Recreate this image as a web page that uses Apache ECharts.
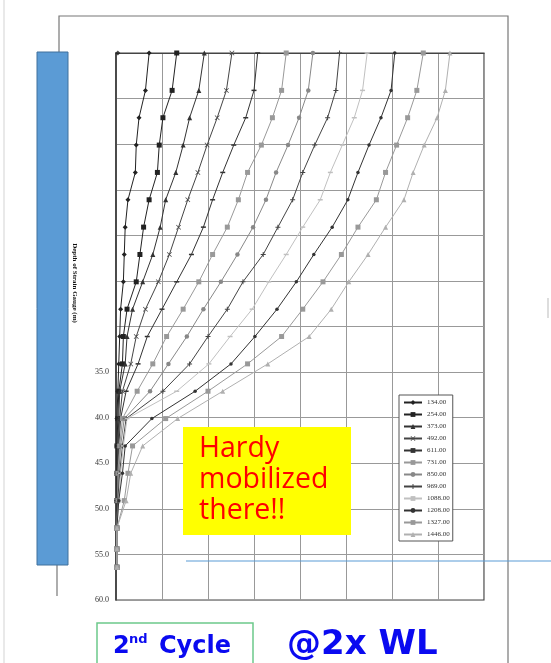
<!DOCTYPE html>
<html>
<head>
<meta charset="utf-8">
<script src="https://cdn.jsdelivr.net/npm/echarts@6/dist/echarts.min.js"></script>
<style>
html,body{margin:0;padding:0;background:#fff;}
#c{width:551px;height:663px;}
</style>
</head>
<body>
<div id="c"></div>
<script>
// ---- data ----
const depths = [0, 4.1, 7.1, 10.1, 13.1, 16.1, 19.1, 22.1, 25.1, 28.1, 31.1, 34.1, 37.1, 40.1, 43.1, 46.1, 49.1, 52.1, 54.4, 56.4];
const loadLabels = ['134.00','254.00','373.00','492.00','611.00','731.00','850.00','969.00','1088.00','1208.00','1327.00','1446.00'];
const s134  = [36,32,25,22,21,13,10,9,8,5,4,3,2,1,1,1,1,1,1,1];
const s254  = [66,61,51,47,45,36,30,26,22,12,8,7,3,2,1,1,1,1,1,1];
const s373  = [96,90,80,73,65,54,48,40,29,18,12,10,4,3,2,1,1,1,1,1];
const s492  = [126,120,110,99,89,78,68,58,46,32,22,16,7,4,2,2,1,1,1,1];
const s611  = [154,150,141,128,116,105,95,82,66,50,34,24,11,5,3,2,1,1,1,1];
const s731  = [185,180,170,158,143,133,121,105,90,73,55,40,23,7,4,2,2,1,1,1];
const s850  = [214,209,199,187,174,163,149,132,114,95,77,57,37,9,5,3,2,1,1,1];
const s969  = [243,239,230,216,203,192,176,160,138,121,100,80,51,11,7,4,2,1,1,1];
const s1088 = [273,268,259,246,233,222,203,185,166,148,124,101,66,12,8,5,3,1,1,1];
const s1208 = [303,299,288,275,263,252,235,215,196,175,151,125,86,39,10,7,3,1,1,1];
const s1327 = [334,327,317,305,293,283,263,245,225,203,180,143,100,54,18,13,9,1,1,1];
const s1446 = [363,358,349,335,323,313,293,274,253,234,210,165,116,67,29,16,11,1,1,1];
const allSeries = [s134,s254,s373,s492,s611,s731,s850,s969,s1088,s1208,s1327,s1446];
const strayPoint = [[2, 0]];
const yTickLabels = ['35.0','40.0','45.0','50.0','55.0','60.0'];

// ---- styles ----
const XSYM = 'path://M0,1 L1,0 L5,4 L9,0 L10,1 L6,5 L10,9 L9,10 L5,6 L1,10 L0,9 L4,5 Z';
const PLUS = 'path://M4,0 L6,0 L6,4 L10,4 L10,6 L6,6 L6,10 L4,10 L4,6 L0,6 L0,4 L4,4 Z';
const styles = [
  {c:'#222', s:'diamond', z:5},
  {c:'#222', s:'rect', z:5},
  {c:'#333', s:'triangle', z:5},
  {c:'#444', s:XSYM, z:5},
  {c:'#333', s:'rect', z:[5,1.5]},
  {c:'#999', s:'rect', z:5},
  {c:'#888', s:'circle', z:4.5},
  {c:'#444', s:PLUS, z:5},
  {c:'#c0c0c0', s:'rect', z:[5,1.5]},
  {c:'#333', s:'circle', z:3.5},
  {c:'#999', s:'rect', z:5},
  {c:'#b0b0b0', s:'triangle', z:5}
];

const series = allSeries.map((vals, i) => ({
  name: loadLabels[i],
  type: 'line',
  data: vals.map((v, k) => [v, depths[k]]),
  symbol: styles[i].s,
  symbolSize: styles[i].z,
  showSymbol: true,
  lineStyle: {color: styles[i].c, width: 1},
  itemStyle: {color: styles[i].c},
  emphasis: {disabled: true},
  animation: false,
  z: 3
}));
series.push({
  type: 'scatter', data: strayPoint, symbol: 'diamond', symbolSize: 5,
  itemStyle: {color: '#222'}, silent: true, animation: false, z: 3
});

const chart = echarts.init(document.getElementById('c'), null, {renderer: 'canvas'});
chart.setOption({
  backgroundColor: '#fff',
  animation: false,
  grid: {left: 116, top: 53, width: 368, height: 547, show: true, borderColor: '#444', borderWidth: 1.2},
  xAxis: {
    type: 'value', position: 'top', min: 0, max: 400, interval: 50,
    axisLabel: {show: false}, axisTick: {show: false},
    axisLine: {show: true, lineStyle: {color: '#444', width: 1.2}},
    splitLine: {show: true, lineStyle: {color: '#999', width: 1}}
  },
  yAxis: {
    type: 'value', inverse: true, min: 0, max: 60, interval: 5,
    axisLine: {show: true, lineStyle: {color: '#333', width: 1.5}},
    axisTick: {show: false},
    axisLabel: {
      margin: 7, fontFamily: 'Liberation Serif', fontSize: 8, color: '#333',
      formatter: v => { const t = v.toFixed(1); return yTickLabels.indexOf(t) >= 0 ? t : ''; }
    },
    splitLine: {show: true, lineStyle: {color: '#999', width: 1}}
  },
  legend: {
    orient: 'vertical', left: 399, top: 395,
    data: loadLabels,
    itemWidth: 18, itemHeight: 6, itemGap: 5.0,
    padding: [4, 3, 3, 4],
    backgroundColor: '#fff', borderColor: '#555', borderWidth: 1,
    textStyle: {fontFamily: 'Liberation Serif', fontSize: 7, color: '#333', lineHeight: 6}
  },
  series: series,
  graphic: [
    {type: 'line', shape: {x1: 4, y1: 0, x2: 4, y2: 663}, style: {stroke: '#e2e2e2', lineWidth: 1.5}, z: 1},
    {type: 'polyline', shape: {points: [[59, 52], [59, 16], [508, 16], [508, 663]]}, style: {stroke: '#777', lineWidth: 1.2, fill: null}, z: 1},
    {type: 'line', shape: {x1: 57, y1: 565, x2: 57, y2: 596}, style: {stroke: '#777', lineWidth: 1.2}, z: 1},
    {type: 'rect', shape: {x: 37, y: 52, width: 31, height: 513}, style: {fill: '#5B9BD5', stroke: '#41719C', lineWidth: 1}, z: 50},
    {type: 'text', x: 75, y: 283, rotation: -Math.PI / 2,
      style: {text: 'Depth of Strain Gauge (m)', fontFamily: 'Liberation Serif', fontWeight: 'bold', fontSize: 7, fill: '#111', textAlign: 'center', textVerticalAlign: 'middle'}, z: 50},
    {type: 'line', shape: {x1: 548, y1: 298, x2: 548, y2: 318}, style: {stroke: '#bbb', lineWidth: 1}, z: 1},
    {type: 'line', shape: {x1: 186, y1: 561, x2: 551, y2: 561}, style: {stroke: '#5B9BD5', lineWidth: 1.2}, z: 60},
    {type: 'rect', shape: {x: 183, y: 427, width: 168, height: 108}, style: {fill: '#FFFF00'}, z: 60},
    {type: 'text', x: 199, y: 433, z: 61,
      style: {text: 'Hardy\nmobilized\nthere!!', fontFamily: 'Open Sans', fontSize: 28.5, lineHeight: 31, fill: '#FF0000', textVerticalAlign: 'top'}},
    {type: 'rect', shape: {x: 97, y: 623, width: 156, height: 50}, style: {fill: null, stroke: '#6CC98B', lineWidth: 1.5}, z: 60},
    {type: 'text', x: 113, y: 647, z: 61,
      style: {text: '2', fontFamily: 'DejaVu Sans', fontWeight: 'bold', fontSize: 24, fill: '#0A0AF0', textVerticalAlign: 'middle'}},
    {type: 'text', x: 129, y: 640, z: 61,
      style: {text: 'nd', fontFamily: 'DejaVu Sans', fontWeight: 'bold', fontSize: 13, fill: '#0A0AF0', textVerticalAlign: 'middle'}},
    {type: 'text', x: 159, y: 647, z: 61,
      style: {text: 'Cycle', fontFamily: 'DejaVu Sans', fontWeight: 'bold', fontSize: 24, fill: '#0A0AF0', textVerticalAlign: 'middle'}},
    {type: 'text', x: 287, y: 645, z: 61,
      style: {text: '@2x WL', fontFamily: 'DejaVu Sans', fontWeight: 'bold', fontSize: 34, fill: '#0A0AF0', textVerticalAlign: 'middle'}}
  ]
});
</script>
</body>
</html>
